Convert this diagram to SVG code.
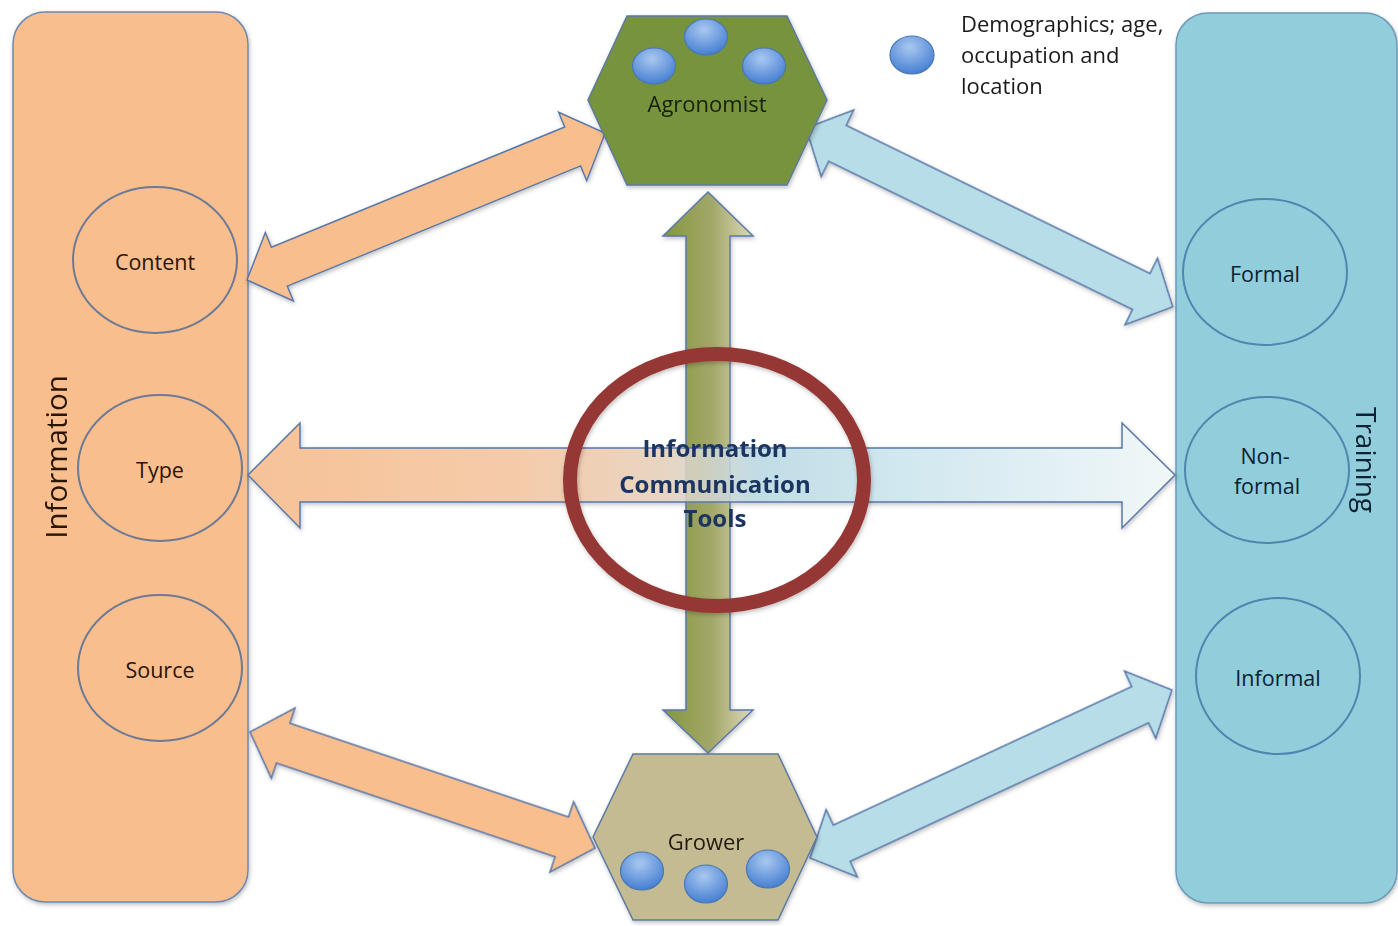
<svg xmlns="http://www.w3.org/2000/svg" width="1398" height="926" viewBox="0 0 1398 926">
<defs>
  <style>
    .panelL{fill:#f9be8e;stroke:#6d88b0;stroke-width:1.5}
    .panelR{fill:#92cddc;stroke:#6d9ab8;stroke-width:1.5}
    .cirL{fill:#f9be8e;stroke:#6c7a96;stroke-width:2}
    .cirR{fill:#92cddc;stroke:#4f86b0;stroke-width:2}
    .lbl{font-family:"Open Sans","Liberation Sans",sans-serif;font-size:21.5px;text-anchor:middle}
    .hl{font-size:22px}
    .lblL{fill:#2a1404}
    .lblR{fill:#0a2232}
    .side{font-family:"Open Sans","Liberation Sans",sans-serif;font-size:28px;text-anchor:middle}
    .arrO{fill:#f9be8e;stroke:#5a78a8;stroke-width:1.5}
    .arrB{fill:#b7dde8;stroke:#5a78a8;stroke-width:1.5}
    .dot{fill:url(#dotG);stroke:#4a78b0;stroke-width:1.2}
    .hex{stroke:#5a7aa0;stroke-width:1.5}
    .ict{font-family:"Open Sans","Liberation Sans",sans-serif;font-size:24px;font-weight:bold;fill:#1b3560;text-anchor:middle}
  </style>
  <radialGradient id="dotG" cx="0.45" cy="0.3" r="0.75">
    <stop offset="0" stop-color="#a9c8f0"/>
    <stop offset="1" stop-color="#3f7ad0"/>
  </radialGradient>
  <linearGradient id="vG" x1="663" y1="0" x2="753" y2="0" gradientUnits="userSpaceOnUse">
    <stop offset="0" stop-color="#83963f"/>
    <stop offset="0.55" stop-color="#a4a86a"/>
    <stop offset="1" stop-color="#ddd8bb"/>
  </linearGradient>
  <linearGradient id="hG" x1="248" y1="0" x2="1175" y2="0" gradientUnits="userSpaceOnUse">
    <stop offset="0" stop-color="#f9bd8c"/>
    <stop offset="0.3" stop-color="#f7c8a2"/>
    <stop offset="0.45" stop-color="#e9d3bd"/>
    <stop offset="0.55" stop-color="#bcdbe6"/>
    <stop offset="0.7" stop-color="#cde8f1"/>
    <stop offset="1" stop-color="#f3fafc"/>
  </linearGradient>
  <filter id="sh" x="-10%" y="-10%" width="120%" height="120%">
    <feDropShadow dx="1" dy="2" stdDeviation="2" flood-color="#000" flood-opacity="0.25"/>
  </filter>
</defs>
<rect width="1398" height="926" fill="#ffffff"/>

<g id="information-panel" filter="url(#sh)">
  <rect class="panelL" x="13" y="12" width="235" height="890" rx="32"/>
  <text class="side" fill="#2a1404" font-size="29" transform="translate(67,457) rotate(-90)" style="font-size:29.5px">Information</text>
</g>
<g id="training-panel" filter="url(#sh)">
  <rect class="panelR" x="1176" y="13" width="221" height="890" rx="32"/>
  <text class="side" fill="#0a2232" transform="translate(1356,460) rotate(90)">Training</text>
</g>

<g id="content"><ellipse class="cirL" cx="155" cy="260" rx="82" ry="73"/><text class="lbl lblL" x="155" y="270">Content</text></g>
<g id="type"><ellipse class="cirL" cx="160" cy="468" rx="82" ry="73"/><text class="lbl lblL" x="160" y="478">Type</text></g>
<g id="source"><ellipse class="cirL" cx="160" cy="668" rx="82" ry="73"/><text class="lbl lblL" x="160" y="678">Source</text></g>

<g id="formal"><ellipse class="cirR" cx="1265" cy="272" rx="82" ry="73"/><text class="lbl lblR" x="1265" y="282">Formal</text></g>
<g id="non-formal"><ellipse class="cirR" cx="1267" cy="470" rx="82" ry="73"/><text class="lbl lblR" x="1265" y="464">Non-</text><text class="lbl lblR" x="1267" y="494">formal</text></g>
<g id="informal"><ellipse class="cirR" cx="1278" cy="676" rx="82" ry="78"/><text class="lbl lblR" x="1278" y="686">Informal</text></g>

<g id="connectors" filter="url(#sh)">
  <path class="arrO" d="M0,0 L35,-37 L35,-21 L352,-21 L352,-37 L387,0 L352,37 L352,21 L35,21 L35,37 Z" transform="translate(247,280) rotate(-22.3)"/>
  <path class="arrB" d="M0,0 L35,-37 L35,-20 L373,-20 L373,-37 L408,0 L373,37 L373,20 L35,20 L35,37 Z" transform="translate(806,128) rotate(26)"/>
  <path class="arrO" d="M0,0 L35,-37 L35,-21 L329,-21 L329,-37 L364,0 L329,37 L329,21 L35,21 L35,37 Z" transform="translate(250,732) rotate(18.6)"/>
  <path class="arrB" d="M0,0 L35,-37 L35,-20 L364,-20 L364,-37 L399,0 L364,37 L364,20 L35,20 L35,37 Z" transform="translate(810,858) rotate(-24.9)"/>
  <path fill="url(#vG)" stroke="#5a78a8" stroke-width="1.5" d="M708,192 L753,236 L730,236 L730,710 L753,710 L708,753 L663,710 L686,710 L686,236 L663,236 Z"/>
  <path fill="url(#hG)" fill-opacity="0.85" stroke="#5a78a8" stroke-width="1.5" d="M248,475 L300,423 L300,448 L1122,448 L1122,423 L1175,475 L1122,528 L1122,502 L300,502 L300,528 Z"/>
</g>

<g id="agronomist" filter="url(#sh)">
  <polygon class="hex" fill="#77933c" points="627,16 787,16 827,100 787,185 627,185 588,100"/>
  <ellipse class="dot" cx="654" cy="66" rx="21.5" ry="18"/>
  <ellipse class="dot" cx="706" cy="37" rx="21.5" ry="18"/>
  <ellipse class="dot" cx="764" cy="66" rx="21.5" ry="18"/>
  <text class="lbl hl" fill="#16200a" x="707" y="112">Agronomist</text>
</g>

<g id="grower" filter="url(#sh)">
  <polygon class="hex" fill="#c4bb93" points="633,754 778,754 817,837 778,920 633,920 593,837"/>
  <ellipse class="dot" cx="642" cy="871" rx="21.5" ry="19"/>
  <ellipse class="dot" cx="706" cy="884" rx="21.5" ry="19"/>
  <ellipse class="dot" cx="768" cy="869" rx="21.5" ry="19"/>
  <text class="lbl hl" fill="#201a10" x="706" y="850">Grower</text>
</g>

<g id="ict">
  <ellipse cx="717" cy="480" rx="147" ry="126" fill="none" stroke="#953735" stroke-width="14" filter="url(#sh)"/>
  <text class="ict" x="715" y="457">Information</text>
  <text class="ict" x="715" y="493">Communication</text>
  <text class="ict" x="715" y="527">Tools</text>
</g>

<g id="legend">
  <ellipse class="dot" cx="912" cy="55" rx="22" ry="19"/>
  <text font-family="'Open Sans','Liberation Sans',sans-serif" font-size="22" fill="#1a1a1a">
    <tspan x="961" y="32">Demographics; age,</tspan>
    <tspan x="961" y="63">occupation and</tspan>
    <tspan x="961" y="94">location</tspan>
  </text>
</g>
</svg>
